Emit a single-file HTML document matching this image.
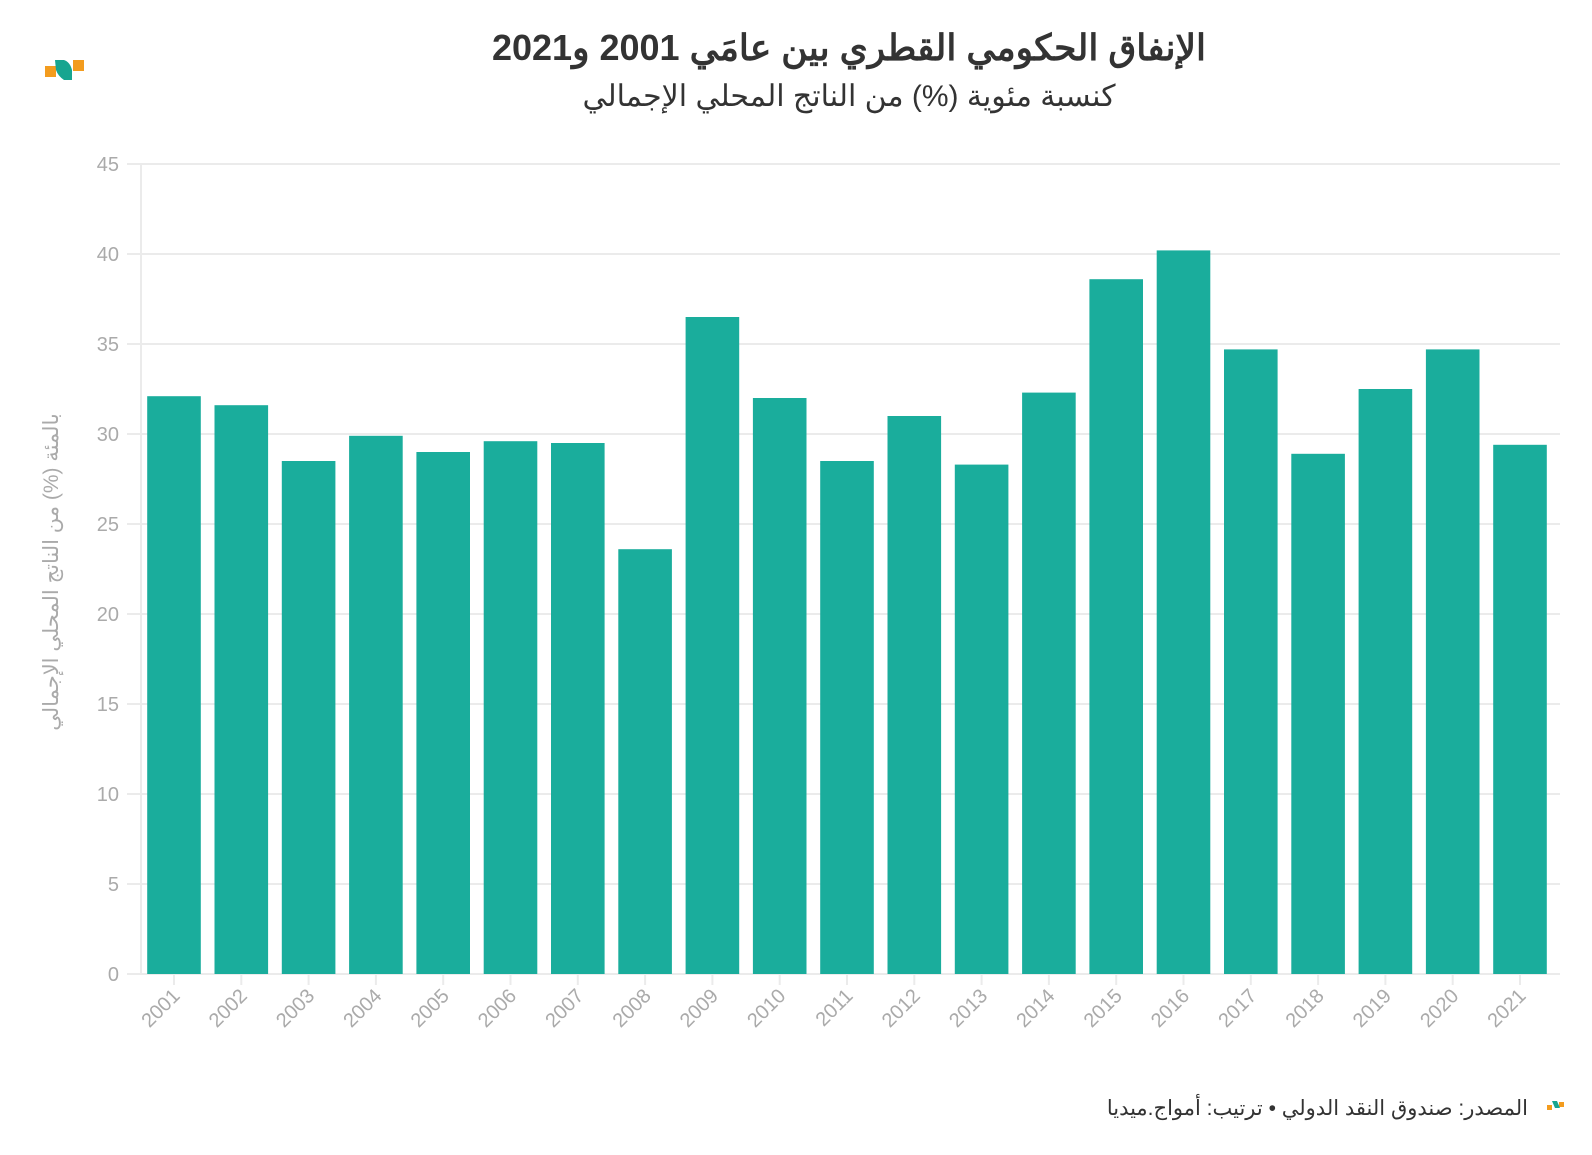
<!DOCTYPE html>
<html><head><meta charset="utf-8"><style>
body{margin:0;background:#fff;}
svg text{font-family:"Liberation Sans","Noto Sans CJK SC",sans-serif;}
</style></head><body>
<svg width="1592" height="1150" xmlns="http://www.w3.org/2000/svg">
<rect width="1592" height="1150" fill="#fff"/>
<rect x="45" y="66" width="11" height="11" fill="#f39c1e"/>
<rect x="73" y="60" width="11" height="11" fill="#f39c1e"/>
<path d="M55 60 L64 60 Q70 62 72 70 L72 80 L64 80 Q58 76 56 70 Z" fill="#17a590"/>
<text x="849" y="60" text-anchor="middle" font-size="36" font-weight="bold" fill="#333">الإنفاق الحكومي القطري بين عامَي 2001 و2021</text>
<text x="849" y="106" text-anchor="middle" font-size="30" fill="#333">كنسبة مئوية (%) من الناتج المحلي الإجمالي</text>
<g stroke="#ebebeb" stroke-width="2">
<line x1="127" x2="1560" y1="974" y2="974"/><line x1="127" x2="1560" y1="884" y2="884"/>
<line x1="127" x2="1560" y1="794" y2="794"/><line x1="127" x2="1560" y1="704" y2="704"/>
<line x1="127" x2="1560" y1="614" y2="614"/><line x1="127" x2="1560" y1="524" y2="524"/>
<line x1="127" x2="1560" y1="434" y2="434"/><line x1="127" x2="1560" y1="344" y2="344"/>
<line x1="127" x2="1560" y1="254" y2="254"/><line x1="127" x2="1560" y1="164" y2="164"/>
<line x1="141" x2="141" y1="164" y2="974"/>
</g>
<g font-size="20" fill="#aaa" text-anchor="end">
<text x="119" y="981">0</text><text x="119" y="891">5</text><text x="119" y="801">10</text>
<text x="119" y="711">15</text><text x="119" y="621">20</text><text x="119" y="531">25</text>
<text x="119" y="441">30</text><text x="119" y="351">35</text><text x="119" y="261">40</text>
<text x="119" y="171">45</text>
</g>
<g fill="#1aad9c">
<rect x="147.2" y="396.2" width="53.6" height="577.8"/>
<rect x="214.5" y="405.2" width="53.6" height="568.8"/>
<rect x="281.8" y="461" width="53.6" height="513"/>
<rect x="349.1" y="435.8" width="53.6" height="538.2"/>
<rect x="416.4" y="452" width="53.6" height="522"/>
<rect x="483.7" y="441.2" width="53.6" height="532.8"/>
<rect x="551.0" y="443" width="53.6" height="531"/>
<rect x="618.3" y="549.2" width="53.6" height="424.8"/>
<rect x="685.6" y="317" width="53.6" height="657"/>
<rect x="752.9" y="398" width="53.6" height="576"/>
<rect x="820.2" y="461" width="53.6" height="513"/>
<rect x="887.5" y="416" width="53.6" height="558"/>
<rect x="954.8" y="464.6" width="53.6" height="509.4"/>
<rect x="1022.1" y="392.6" width="53.6" height="581.4"/>
<rect x="1089.4" y="279.2" width="53.6" height="694.8"/>
<rect x="1156.7" y="250.4" width="53.6" height="723.6"/>
<rect x="1224.0" y="349.4" width="53.6" height="624.6"/>
<rect x="1291.3" y="453.8" width="53.6" height="520.2"/>
<rect x="1358.6" y="389" width="53.6" height="585"/>
<rect x="1425.9" y="349.4" width="53.6" height="624.6"/>
<rect x="1493.2" y="444.8" width="53.6" height="529.2"/>
</g>
<g stroke="#ebebeb" stroke-width="2">
<line x1="174" x2="174" y1="975" y2="985"/><line x1="241.3" x2="241.3" y1="975" y2="985"/>
<line x1="308.6" x2="308.6" y1="975" y2="985"/><line x1="375.9" x2="375.9" y1="975" y2="985"/>
<line x1="443.2" x2="443.2" y1="975" y2="985"/><line x1="510.5" x2="510.5" y1="975" y2="985"/>
<line x1="577.8" x2="577.8" y1="975" y2="985"/><line x1="645.1" x2="645.1" y1="975" y2="985"/>
<line x1="712.4" x2="712.4" y1="975" y2="985"/><line x1="779.7" x2="779.7" y1="975" y2="985"/>
<line x1="847" x2="847" y1="975" y2="985"/><line x1="914.3" x2="914.3" y1="975" y2="985"/>
<line x1="981.6" x2="981.6" y1="975" y2="985"/><line x1="1048.9" x2="1048.9" y1="975" y2="985"/>
<line x1="1116.2" x2="1116.2" y1="975" y2="985"/><line x1="1183.5" x2="1183.5" y1="975" y2="985"/>
<line x1="1250.8" x2="1250.8" y1="975" y2="985"/><line x1="1318.1" x2="1318.1" y1="975" y2="985"/>
<line x1="1385.4" x2="1385.4" y1="975" y2="985"/><line x1="1452.7" x2="1452.7" y1="975" y2="985"/>
<line x1="1520" x2="1520" y1="975" y2="985"/>
</g>
<g font-size="20" fill="#aaa" text-anchor="end">
<text transform="translate(181,997) rotate(-45)">2001</text>
<text transform="translate(248.3,997) rotate(-45)">2002</text>
<text transform="translate(315.6,997) rotate(-45)">2003</text>
<text transform="translate(382.9,997) rotate(-45)">2004</text>
<text transform="translate(450.2,997) rotate(-45)">2005</text>
<text transform="translate(517.5,997) rotate(-45)">2006</text>
<text transform="translate(584.8,997) rotate(-45)">2007</text>
<text transform="translate(652.1,997) rotate(-45)">2008</text>
<text transform="translate(719.4,997) rotate(-45)">2009</text>
<text transform="translate(786.7,997) rotate(-45)">2010</text>
<text transform="translate(854,997) rotate(-45)">2011</text>
<text transform="translate(921.3,997) rotate(-45)">2012</text>
<text transform="translate(988.6,997) rotate(-45)">2013</text>
<text transform="translate(1055.9,997) rotate(-45)">2014</text>
<text transform="translate(1123.2,997) rotate(-45)">2015</text>
<text transform="translate(1190.5,997) rotate(-45)">2016</text>
<text transform="translate(1257.8,997) rotate(-45)">2017</text>
<text transform="translate(1325.1,997) rotate(-45)">2018</text>
<text transform="translate(1392.4,997) rotate(-45)">2019</text>
<text transform="translate(1459.7,997) rotate(-45)">2020</text>
<text transform="translate(1527,997) rotate(-45)">2021</text>
</g>
<text transform="translate(58,572) rotate(-90)" text-anchor="middle" font-size="21" fill="#aaa">بالمئة (%) من الناتج المحلي الإجمالي</text>
<text x="1528" y="1115" text-anchor="end" font-size="21" fill="#333">المصدر: صندوق النقد الدولي • ترتيب: أمواج.ميديا</text>
<rect x="1547" y="1105" width="5" height="5" fill="#f39c1e"/>
<rect x="1559" y="1102" width="5" height="5" fill="#f39c1e"/>
<path d="M1552 1101 L1557 1101 L1560 1108 L1555 1108 Z" fill="#17a590"/>
</svg>
</body></html>
